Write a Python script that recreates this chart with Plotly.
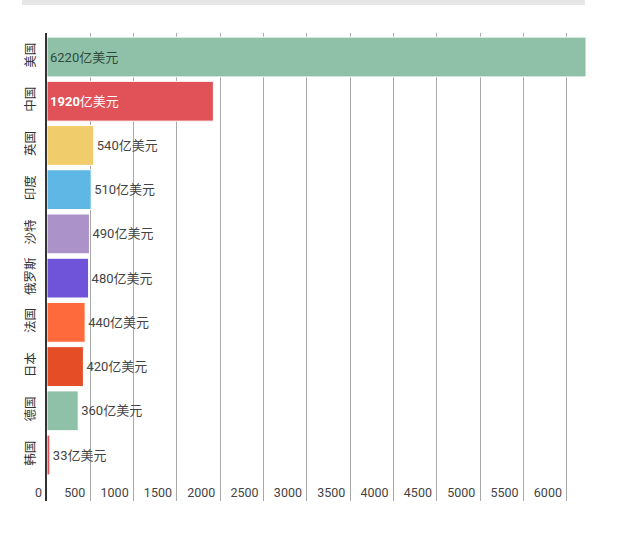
import plotly.graph_objects as go

countries = ["美国", "中国", "英国", "印度", "沙特", "俄罗斯", "法国", "日本", "德国", "韩国"]
values = [6220, 1920, 540, 510, 490, 480, 440, 420, 360, 33]
colors = ["#8fc1a9", "#e05257", "#f0cc6b", "#5eb7e5", "#ab93c9",
          "#6f53d9", "#ff6a3c", "#e44d26", "#8fc1a9", "#e05257"]
unit = "亿美元"
x_ticks = [0, 500, 1000, 1500, 2000, 2500, 3000, 3500, 4000, 4500, 5000, 5500, 6000]

texts = []
positions = []
text_colors = []
for i, v in enumerate(values):
    if i == 0:
        texts.append(f"{v}{unit}")
        positions.append("inside")
        text_colors.append("#2f4a3c")
    elif i == 1:
        texts.append(f"<b>{v}</b>{unit}")
        positions.append("inside")
        text_colors.append("#ffffff")
    else:
        texts.append(f"{v}{unit}")
        positions.append("outside")
        text_colors.append("#444444")

fig = go.Figure(go.Bar(
    y=countries, x=values, orientation="h",
    marker=dict(color=colors, line=dict(color="#ffffff", width=1)),
    width=0.9,
    text=texts, textposition=positions, insidetextanchor="start",
    textfont=dict(color=text_colors, size=13, family="Roboto, Noto Sans CJK SC"),
    outsidetextfont=dict(color="#444444", size=13, family="Roboto, Noto Sans CJK SC"),
    constraintext="none", cliponaxis=False,
))

fig.update_layout(
    width=621, height=541,
    margin=dict(l=47, r=35, t=33, b=40),
    plot_bgcolor="#ffffff", paper_bgcolor="#ffffff",
    showlegend=False,
    font=dict(family="Roboto, Noto Sans CJK SC", color="#333333"),
    xaxis=dict(
        range=[0, 6220], tickvals=x_ticks, ticktext=[str(t) for t in x_ticks],
        showgrid=True, gridcolor="#a8a8a8", gridwidth=1, zeroline=False,
        ticklabelposition="inside left", ticklabeloverflow="allow",
        ticklabelshift=-5, ticklabelstandoff=-4,
        tickfont=dict(size=12.5, color="#444444"), ticks="", fixedrange=True,
    ),
    yaxis=dict(
        categoryorder="array", categoryarray=countries,
        range=[10.04, -0.543], tickangle=-90,
        showline=True, linecolor="#333333", linewidth=2,
        ticklabelstandoff=5,
        tickfont=dict(size=12.5, color="#333333"), ticks="", showgrid=False,
    ),
    shapes=[dict(type="rect", xref="paper", yref="paper",
                 x0=-0.0464, x1=0.998, y0=1.0598, y1=1.0705,
                 fillcolor="#e6e6e6", line=dict(width=0), layer="above")],
)

fig.write_html("out.html")
